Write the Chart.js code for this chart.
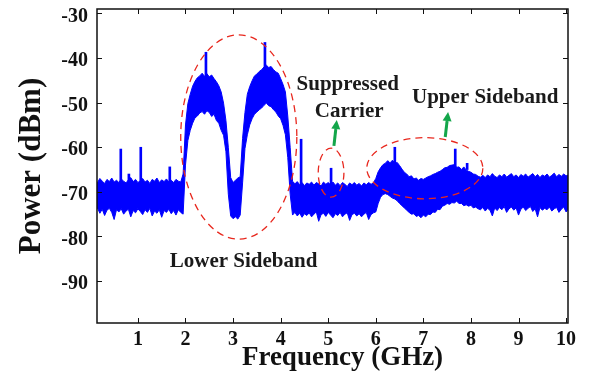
<!DOCTYPE html>
<html>
<head>
<meta charset="utf-8">
<script src="https://cdn.jsdelivr.net/npm/chart.js@4.4.0/dist/chart.umd.min.js"></script>
<style>
    html, body { margin: 0; padding: 0; background: #fff; }
</style>
</head>
<body>
<canvas id="spectrumChart" width="594" height="379"></canvas>
<script>
// spectrum analyser trace, read off the picture as top / bottom edge of the noisy trace
// sweep grid: 0.10 GHz .. 10.05 GHz, 0.05 GHz per bin
var sweepStart = 0.10;
var sweepStep = 0.05;

var traceTop = [
    -67.3,-67.9,-67.0,-67.6,-68.1,-67.2,-67.7,-66.9,-67.8,-67.4,
    -67.9,-67.1,-67.6,-68.0,-67.3,-66.8,-67.7,-67.2,-67.9,-67.5,
    -67.0,-67.8,-67.4,-68.1,-67.2,-67.6,-66.9,-67.9,-67.3,-67.7,
    -67.1,-67.8,-67.4,-67.9,-67.2,-67.6,-67.8,-66.0,-55.0,-50.2,
    -48.1,-46.3,-45.2,-44.4,-44.0,-43.4,-44.1,-43.5,-44.2,-43.8,
    -44.6,-45.3,-46.2,-47.6,-50.1,-54.0,-60.0,-66.8,-67.9,-67.4,
    -66.9,-66.6,-58.0,-52.2,-48.1,-46.4,-45.1,-44.0,-43.6,-43.0,
    -42.6,-42.0,-41.6,-42.1,-41.9,-42.6,-43.1,-43.4,-44.6,-45.9,
    -47.6,-53.0,-60.0,-67.6,-68.2,-67.7,-68.4,-67.9,-68.6,-68.0,
    -68.3,-67.8,-68.5,-67.9,-68.2,-68.7,-67.8,-68.3,-67.9,-68.4,
    -67.8,-68.5,-68.0,-68.6,-67.9,-68.3,-68.8,-68.0,-68.4,-67.9,
    -68.5,-68.1,-68.7,-68.0,-68.4,-67.9,-68.3,-68.0,-67.0,-65.5,
    -64.6,-63.9,-63.6,-63.0,-63.5,-62.9,-63.6,-63.4,-64.1,-64.9,
    -65.6,-66.0,-66.6,-66.4,-67.1,-66.9,-67.4,-67.0,-67.2,-66.9,
    -66.6,-66.4,-66.1,-65.9,-65.6,-65.4,-65.0,-64.6,-64.5,-64.1,
    -64.0,-63.9,-64.5,-64.4,-65.0,-64.4,-65.1,-65.4,-65.6,-66.0,
    -66.1,-66.5,-66.7,-66.3,-66.8,-66.2,-66.6,-65.9,-66.5,-66.8,
    -66.2,-66.6,-66.0,-66.7,-66.3,-65.9,-66.6,-66.2,-66.8,-66.1,
    -66.5,-66.0,-66.7,-66.3,-65.9,-66.6,-66.1,-66.8,-66.2,-66.5,
    -66.0,-66.7,-66.3,-65.8,-66.6,-66.1,-66.5,-66.0,-66.4,-66.2
];

var traceBottom = [
    -74.2,-73.6,-74.8,-73.9,-75.3,-74.1,-73.7,-74.6,-76.2,-74.0,
    -74.5,-73.8,-75.0,-74.3,-73.9,-75.6,-74.2,-74.7,-73.8,-74.4,
    -75.1,-74.0,-74.6,-73.7,-75.4,-74.3,-74.8,-74.0,-75.7,-74.2,
    -74.6,-73.9,-74.9,-74.2,-75.2,-74.0,-74.6,-75.0,-64.0,-58.5,
    -56.2,-54.6,-53.4,-53.0,-52.3,-52.0,-52.6,-51.8,-52.2,-53.1,
    -52.6,-54.0,-54.6,-56.2,-57.3,-61.0,-70.5,-75.4,-76.0,-75.6,
    -76.1,-75.2,-68.0,-60.3,-57.2,-55.0,-53.6,-52.6,-52.1,-51.6,
    -51.2,-50.6,-50.1,-50.7,-50.9,-51.6,-52.1,-53.0,-53.6,-55.1,
    -57.2,-62.3,-70.5,-75.2,-74.6,-75.4,-74.8,-75.7,-74.9,-75.3,
    -74.7,-75.6,-75.0,-74.5,-76.6,-75.1,-74.8,-75.5,-74.6,-75.2,
    -75.8,-74.9,-75.3,-74.6,-75.6,-75.0,-74.7,-76.4,-75.1,-74.8,
    -75.4,-74.9,-75.6,-75.0,-74.6,-76.2,-75.1,-74.7,-74.5,-72.6,
    -71.2,-70.6,-70.4,-70.6,-71.0,-71.4,-71.6,-72.0,-72.6,-73.1,
    -73.6,-74.1,-74.6,-75.0,-74.9,-75.5,-75.3,-75.8,-75.2,-75.6,
    -75.0,-75.1,-74.5,-74.6,-73.9,-74.0,-73.2,-73.0,-72.6,-72.8,
    -72.4,-72.5,-72.1,-72.6,-72.6,-73.1,-72.9,-73.2,-73.0,-73.6,
    -73.4,-73.8,-74.0,-73.5,-74.3,-73.7,-74.1,-75.4,-73.6,-74.2,
    -73.5,-74.0,-73.3,-74.6,-73.8,-73.4,-74.1,-73.6,-75.2,-73.9,
    -73.4,-74.2,-73.7,-73.3,-74.4,-73.8,-75.6,-73.5,-74.1,-73.7,
    -74.0,-73.4,-74.3,-73.8,-73.5,-74.6,-73.9,-73.4,-74.5,-73.8
];

// narrow tones sticking out of the trace
var spikeFreq = [0.64, 0.81, 1.06, 1.67, 2.43, 3.67, 4.43, 5.06, 6.40, 7.67, 7.92];
var spikeTop  = [-60.4, -66.0, -60.0, -64.4, -38.7, -36.5, -58.2, -64.7, -60.0, -60.4, -63.6];
var spikeBase = [-68.0, -68.0, -68.0, -68.0, -45.0, -43.0, -69.0, -69.0, -64.0, -65.0, -65.0];

var xTickLabels = [1, 2, 3, 4, 5, 6, 7, 8, 9, 10];
var yTickLabels = [-30, -40, -50, -60, -70, -80, -90];

var freq = traceTop.map(function (v, i) { return +(sweepStart + sweepStep * i).toFixed(2); });

// annotations (data units)
var ovals = [
    { x: 3.12, y: -57.7, rx: 1.22, ry: 22.9 },
    { x: 5.06, y: -65.7, rx: 0.27, ry: 5.5 },
    { x: 7.03, y: -64.7, rx: 1.22, ry: 6.85 }
];
var arrows = [
    { x0: 5.12, y0: -59.7, x1: 5.18, y1: -53.9 },
    { x0: 7.46, y0: -57.7, x1: 7.52, y1: -52.1 }
];
var notes = [
    { text: 'Lower Sideband', x: 3.22, y: -85.6 },
    { text: 'Suppressed', x: 5.41, y: -46.0 },
    { text: 'Carrier', x: 5.44, y: -51.9 },
    { text: 'Upper Sideband', x: 8.30, y: -48.8 }
];

var serif = '"Liberation Serif", "Times New Roman", serif';

var overlay = {
    id: 'overlay',
    afterDatasetsDraw: function (chart) {
        var c = chart.ctx;
        var xs = chart.scales.x;
        var ys = chart.scales.y;
        var a = chart.chartArea;
        c.save();

        // frame + inward ticks on all four sides
        c.strokeStyle = '#111';
        c.lineWidth = 1.5;
        c.strokeRect(a.left, a.top, a.right - a.left, a.bottom - a.top);
        c.beginPath();
        xs.ticks.forEach(function (t) {
            var px = Math.round(xs.getPixelForValue(t.value)) + 0.5;
            c.moveTo(px, a.bottom); c.lineTo(px, a.bottom - 5);
            c.moveTo(px, a.top); c.lineTo(px, a.top + 5);
        });
        ys.ticks.forEach(function (t) {
            var py = Math.round(ys.getPixelForValue(t.value)) + 0.5;
            c.moveTo(a.left, py); c.lineTo(a.left + 5, py);
            c.moveTo(a.right, py); c.lineTo(a.right - 5, py);
        });
        c.lineWidth = 1;
        c.stroke();

        // dashed red ovals
        c.strokeStyle = '#e8281e';
        c.lineWidth = 1.3;
        c.setLineDash([7, 5]);
        ovals.forEach(function (o) {
            var cx = xs.getPixelForValue(o.x);
            var cy = ys.getPixelForValue(o.y);
            var rx = xs.getPixelForValue(o.x + o.rx) - cx;
            var ry = cy - ys.getPixelForValue(o.y + o.ry);
            c.beginPath();
            c.ellipse(cx, cy, rx, ry, 0, 0, Math.PI * 2);
            c.stroke();
        });
        c.setLineDash([]);

        // green arrows
        c.strokeStyle = '#13a64a';
        c.fillStyle = '#13a64a';
        arrows.forEach(function (ar) {
            var x0 = xs.getPixelForValue(ar.x0), y0 = ys.getPixelForValue(ar.y0);
            var x1 = xs.getPixelForValue(ar.x1), y1 = ys.getPixelForValue(ar.y1);
            var ang = Math.atan2(y1 - y0, x1 - x0);
            var hx = x1 - 9 * Math.cos(ang), hy = y1 - 9 * Math.sin(ang);
            c.lineWidth = 3;
            c.beginPath();
            c.moveTo(x0, y0); c.lineTo(hx, hy);
            c.stroke();
            c.beginPath();
            c.moveTo(x1, y1);
            c.lineTo(hx + 4.5 * Math.sin(ang), hy - 4.5 * Math.cos(ang));
            c.lineTo(hx - 4.5 * Math.sin(ang), hy + 4.5 * Math.cos(ang));
            c.closePath();
            c.fill();
        });

        // labels
        c.fillStyle = '#1a1a1a';
        c.font = 'bold 21px ' + serif;
        c.textAlign = 'center';
        c.textBaseline = 'middle';
        notes.forEach(function (n) {
            c.fillText(n.text, xs.getPixelForValue(n.x), ys.getPixelForValue(n.y));
        });

        // x axis title (sits a little right of the plot centre in the original)
        c.fillStyle = '#111';
        c.font = 'bold 27px ' + serif;
        c.fillText('Frequency (GHz)', (a.left + a.right) / 2 + 10, a.bottom + 35);
        c.restore();
    }
};

var ctx = document.getElementById('spectrumChart');
var spectrumChart = new Chart(ctx, {
    type: 'line',
    data: {
        datasets: [{
            label: 'top',
            data: freq.map(function (f, i) { return { x: f, y: traceTop[i] }; }),
            borderColor: '#0000ff',
            borderWidth: 1,
            pointRadius: 0,
            fill: false,
            order: 2
        }, {
            label: 'bottom',
            data: freq.map(function (f, i) { return { x: f, y: traceBottom[i] }; }),
            borderColor: '#0000ff',
            backgroundColor: '#0000ff',
            borderWidth: 1,
            pointRadius: 0,
            fill: '-1',
            order: 2
        }, {
            type: 'bar',
            label: 'tones',
            data: spikeFreq.map(function (f, i) { return { x: f, y: [spikeBase[i], spikeTop[i]] }; }),
            backgroundColor: '#0000ff',
            barThickness: 2,
            grouped: false,
            order: 1
        }]
    },
    options: {
        responsive: false,
        animation: false,
        devicePixelRatio: 1,
        layout: { padding: { top: 9, right: 26, left: 0, bottom: 0 } },
        plugins: {
            legend: { display: false },
            tooltip: { enabled: false }
        },
        scales: {
            x: {
                type: 'linear',
                offset: false,
                min: 0.14,
                max: 10.04,
                grid: { display: false, drawTicks: false, offset: false },
                border: { display: false },
                afterFit: function (scale) {
                    scale.height = 56;
                    scale.paddingLeft = 0;
                    scale.paddingRight = 0;
                },
                afterBuildTicks: function (scale) {
                    scale.ticks = xTickLabels.map(function (v) { return { value: v }; });
                },
                ticks: {
                    color: '#111',
                    padding: 5,
                    maxRotation: 0,
                    font: { family: serif, size: 20, weight: 'bold' }
                }
            },
            y: {
                type: 'linear',
                min: -99.4,
                max: -29,
                grid: { display: false, drawTicks: false },
                border: { display: false },
                afterFit: function (scale) {
                    scale.width = 97;
                    scale.paddingTop = 0;
                    scale.paddingBottom = 0;
                },
                afterBuildTicks: function (scale) {
                    scale.ticks = yTickLabels.map(function (v) { return { value: v }; });
                },
                ticks: {
                    color: '#111',
                    padding: 9,
                    labelOffset: 3,
                    font: { family: serif, size: 20, weight: 'bold' }
                },
                title: {
                    display: true,
                    text: 'Power (dBm)',
                    color: '#111',
                    padding: { top: 13 },
                    font: { family: serif, size: 31, weight: 'bold' }
                }
            }
        }
    },
    plugins: [overlay]
});
</script>
</body>
</html>
